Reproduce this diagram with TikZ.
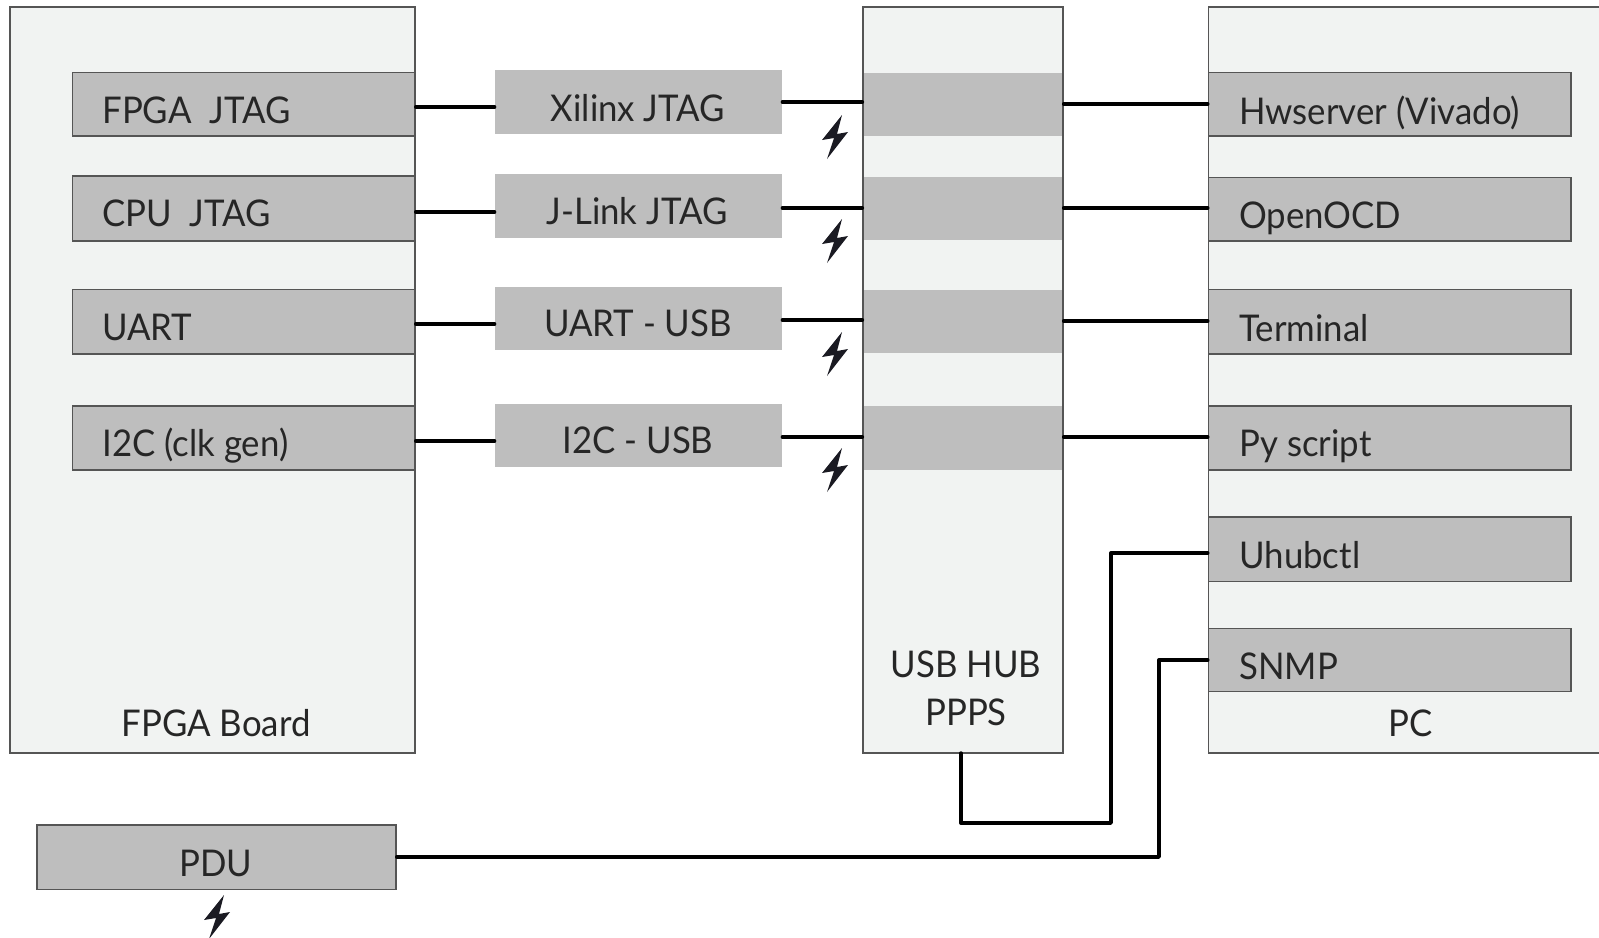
\documentclass[tikz,border=0pt]{standalone}
\usepackage{fontspec}
\setmainfont[FakeStretch=0.945]{Lato}
\definecolor{panelfill}{HTML}{F1F3F2}
\definecolor{boxfill}{HTML}{BEBEBE}
\definecolor{edgecol}{HTML}{555555}
\definecolor{boltcol}{HTML}{1A1A22}
\definecolor{labelcol}{HTML}{262626}
\tikzset{
  x=0.5pt,y=-0.5pt,
  panel/.style={rectangle,draw=edgecol,fill=panelfill,line width=0.6pt,inner sep=0pt},
  slot/.style={rectangle,draw=edgecol,fill=boxfill,line width=0.7pt,inner sep=0pt},
  adapter/.style={rectangle,fill=boxfill,inner sep=0pt},
  wire/.style={draw=black,line width=1.7pt,line cap=round,line join=round},
  lab/.style={inner sep=0pt,text=labelcol,font=\fontsize{18.4}{22}\selectfont,anchor=base west},
  clab/.style={lab,anchor=base},
}
% name, x1, y1, x2, y2, style
\newcommand{\placebox}[6]{%
  \node[#6,minimum width=#4*0.5pt-#2*0.5pt,minimum height=#5*0.5pt-#3*0.5pt] (#1) at ({(#2+#4)/2},{(#3+#5)/2}) {};}
\newcommand{\boltat}[2]{%
  \fill[boltcol,shift={(#1,#2)}] (7,-22) -- (-13,3) -- (-1,1) -- (-8,22) -- (13,-5) -- (2,-3) -- cycle;}
\begin{document}
\begin{tikzpicture}
\useasboundingbox (0,0) rectangle (1599,937);
\clip (0,0) rectangle (1599,937);
% panels
\placebox{board}{10}{7}{415}{753}{panel}
\placebox{hub}{863}{7}{1063}{753}{panel}
\placebox{pc}{1208.5}{7}{1640}{753}{panel}
% FPGA board slots
\placebox{fj}{72.5}{72.5}{415}{136}{slot}
\placebox{cj}{72.5}{176}{415}{241}{slot}
\placebox{ua}{72.5}{289.5}{415}{354}{slot}
\placebox{ic}{72.5}{406}{415}{470}{slot}
% adapters
\placebox{xj}{495}{70}{782}{134}{adapter}
\placebox{jl}{495}{174}{782}{238}{adapter}
\placebox{uu}{495}{286.5}{782}{350}{adapter}
\placebox{iu}{495}{403.5}{782}{467}{adapter}
% hub bands
\placebox{h1}{864}{72.5}{1062}{136}{adapter}
\placebox{h2}{864}{176.5}{1062}{240}{adapter}
\placebox{h3}{864}{289.5}{1062}{353}{adapter}
\placebox{h4}{864}{406}{1062}{469.5}{adapter}
% PC slots
\placebox{hw}{1208.5}{72.5}{1571}{136}{slot}
\placebox{oo}{1208.5}{177.5}{1571}{241}{slot}
\placebox{te}{1208.5}{289.5}{1571}{354}{slot}
\placebox{py}{1208.5}{406}{1571}{470}{slot}
\placebox{uh}{1208.5}{517}{1571}{581.5}{slot}
\placebox{sn}{1208.5}{628.5}{1571}{691.5}{slot}
% PDU
\placebox{pdu}{37}{825}{396}{889.5}{slot}
% labels
\node[lab] (tfj) at (102,123) {FPGA\ \ JTAG};
\node[lab] (tcj) at (102,226) {CPU\ \ JTAG};
\node[lab] (tua) at (102,340) {UART};
\node[lab] (tic) at (102,456) {I2C (clk gen)};
\node[clab] (txj) at (638,121) {Xilinx JTAG};
\node[clab] (tjl) at (637,224) {J-Link JTAG};
\node[clab] (tuu) at (638,336) {UART - USB};
\node[clab] (tiu) at (638,453) {I2C - USB};
\node[lab] (thw) at (1239,124) {Hwserver (Vivado)};
\node[lab] (too) at (1239,228) {OpenOCD};
\node[lab] (tte) at (1239,341) {Terminal};
\node[lab] (tpy) at (1239,456) {Py script};
\node[lab] (tuh) at (1239,568) {Uhubctl};
\node[lab] (tsn) at (1239,679) {SNMP};
\node[clab] (tbo) at (216,736) {FPGA Board};
\node[clab] (tpc) at (1411,736) {PC};
\node[clab] (thu) at (966,677) {USB HUB};
\node[clab] (thp) at (966,725) {PPPS};
\node[clab] (tpd) at (216,876) {PDU};
% wire levels
\coordinate (a1) at (0,107);  \coordinate (a2) at (0,212);
\coordinate (a3) at (0,324);  \coordinate (a4) at (0,441);
\coordinate (b1) at (0,102);  \coordinate (b2) at (0,208);
\coordinate (b3) at (0,320);  \coordinate (b4) at (0,437);
\coordinate (c1) at (0,104);  \coordinate (c2) at (0,208);
\coordinate (c3) at (0,321);  \coordinate (c4) at (0,437);
\coordinate (hubdrop) at (961,753);
\coordinate (huba) at (961,823);
\coordinate (hubb) at (1111,823);
\coordinate (hubc) at (1111,553);
\coordinate (pdua) at (1159,857);
\coordinate (pdub) at (1159,660);
% wires
\draw[wire] (fj.east |- a1) -- (xj.west |- a1);
\draw[wire] (cj.east |- a2) -- (jl.west |- a2);
\draw[wire] (ua.east |- a3) -- (uu.west |- a3);
\draw[wire] (ic.east |- a4) -- (iu.west |- a4);
\draw[wire] (xj.east |- b1) -- (hub.west |- b1);
\draw[wire] (jl.east |- b2) -- (hub.west |- b2);
\draw[wire] (uu.east |- b3) -- (hub.west |- b3);
\draw[wire] (iu.east |- b4) -- (hub.west |- b4);
\draw[wire] (hub.east |- c1) -- (hw.west |- c1);
\draw[wire] (hub.east |- c2) -- (oo.west |- c2);
\draw[wire] (hub.east |- c3) -- (te.west |- c3);
\draw[wire] (hub.east |- c4) -- (py.west |- c4);
\draw[wire] (hubdrop) -- (huba) -- (hubb) -- (hubc) -- (uh.west |- hubc);
\draw[wire] (pdu.east |- pdua) -- (pdua) -- (pdub) -- (sn.west |- pdub);
% bolts
\boltat{835}{137}
\boltat{835}{241}
\boltat{835}{354}
\boltat{835}{470}
\boltat{217}{917}
\end{tikzpicture}
\end{document}
